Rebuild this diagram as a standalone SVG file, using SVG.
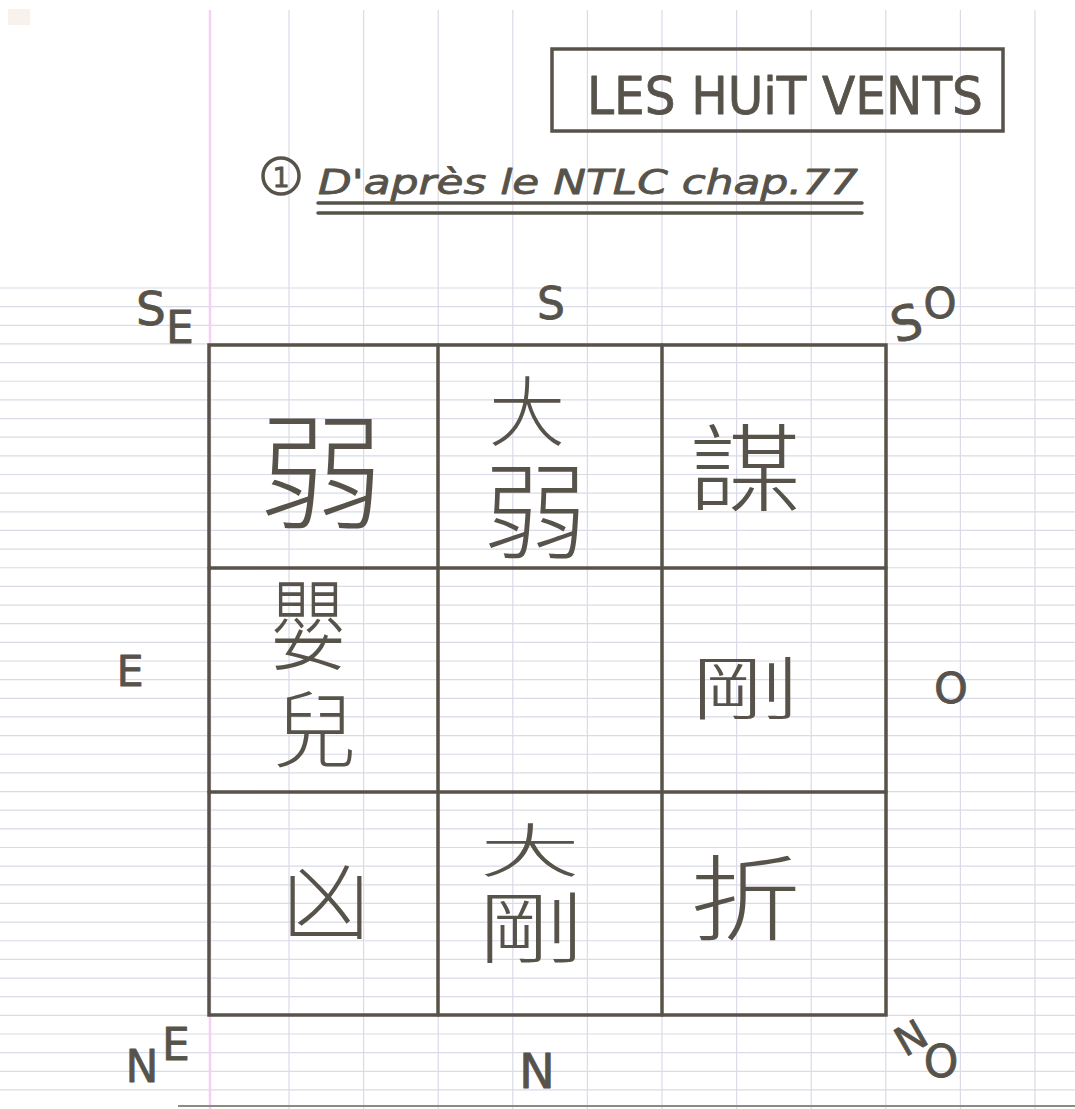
<svg xmlns="http://www.w3.org/2000/svg" width="1075" height="1109" viewBox="0 0 1075 1109">
<style>
.paper{stroke:#dadae8;stroke-width:1.2;fill:none}
.ink{stroke:#57534b;stroke-width:3.5;fill:none;stroke-linecap:round}
.lat{font-family:"DejaVu Sans","Liberation Sans",sans-serif;fill:#57534b;stroke:#57534b;stroke-width:0.8;stroke-linejoin:round;text-anchor:middle}
.cjk{font-family:"Liberation Sans","Noto Sans CJK TC","Noto Sans CJK JP",sans-serif;font-weight:300;fill:#57534b;text-anchor:middle}
.start{text-anchor:start}
</style>
<rect width="1075" height="1109" fill="#ffffff"/>
<rect x="8" y="9" width="22" height="16" fill="#f5e8de" opacity="0.6"/>
<g id="paper">
<path class="paper" d="M0 288H1075M0 306.65H1075M0 325.3H1075M0 343.95H1075M0 362.6H1075M0 381.25H1075M0 399.9H1075M0 418.55H1075M0 437.2H1075M0 455.85H1075M0 474.5H1075M0 493.15H1075M0 511.8H1075M0 530.45H1075M0 549.1H1075M0 567.75H1075M0 586.4H1075M0 605.05H1075M0 623.7H1075M0 642.35H1075M0 661H1075M0 679.65H1075M0 698.3H1075M0 716.95H1075M0 735.6H1075M0 754.25H1075M0 772.9H1075M0 791.55H1075M0 810.2H1075M0 828.85H1075M0 847.5H1075M0 866.15H1075M0 884.8H1075M0 903.45H1075M0 922.1H1075M0 940.75H1075M0 959.4H1075M0 978.05H1075M0 996.7H1075M0 1015.35H1075M0 1034H1075M0 1052.65H1075M0 1071.3H1075M0 1089.95H1075"/>
<path class="paper" d="M289 10V1109M363.6 10V1109M438.2 10V1109M512.8 10V1109M587.4 10V1109M662 10V1109M736.6 10V1109M811.2 10V1109M885.8 10V1109M960.4 10V1109M1035 10V1109"/>
<line x1="210" y1="10" x2="210" y2="1109" stroke="#f5d0f3" stroke-width="2.5"/>
<line x1="178" y1="1106" x2="1075" y2="1106" stroke="#8d8a84" stroke-width="2"/>
</g>
<g id="title">
<rect x="552" y="49" width="451" height="82" class="ink"/>
<text class="lat" x="785" y="114" font-size="52" textLength="396" lengthAdjust="spacingAndGlyphs">LES HUiT VENTS</text>
</g>
<g id="subtitle">
<circle cx="281" cy="176" r="18" class="ink" stroke-width="3"/>
<text class="lat" x="281" y="187" font-size="27" stroke-width="0.6">1</text>
<text class="lat start" x="318" y="194" font-size="34" font-style="italic" stroke-width="0.3" textLength="540" lengthAdjust="spacingAndGlyphs">D'après le NTLC chap.77</text>
<line x1="318" y1="203" x2="862" y2="203" class="ink" stroke-width="2.5"/>
<line x1="318" y1="213" x2="862" y2="213" class="ink" stroke-width="2.5"/>
</g>
<g id="connectors">
<rect x="209" y="345" width="677" height="670" class="ink"/>
<line x1="438" y1="345" x2="438" y2="1015" class="ink"/>
<line x1="662" y1="345" x2="662" y2="1015" class="ink"/>
<line x1="209" y1="568" x2="886" y2="568" class="ink"/>
<line x1="209" y1="792" x2="886" y2="792" class="ink"/>
</g>
<g id="labels">
<g id="lbl-SE"><text class="lat" x="151" y="325" font-size="47">S</text><text class="lat" x="180" y="343" font-size="44">E</text></g>
<g id="lbl-S"><text class="lat" x="551" y="319" font-size="44">S</text></g>
<g id="lbl-SO"><text class="lat" x="906" y="340" font-size="48" transform="rotate(-15 906 322)">S</text><text class="lat" x="940" y="318" font-size="42">O</text></g>
<g id="lbl-E"><text class="lat" x="130" y="686" font-size="43">E</text></g>
<g id="lbl-O"><text class="lat" x="951" y="703" font-size="43">O</text></g>
<g id="lbl-NE"><text class="lat" x="142" y="1082" font-size="44">N</text><text class="lat" x="176" y="1060" font-size="44">E</text></g>
<g id="lbl-N"><text class="lat" x="537" y="1088" font-size="48">N</text></g>
<g id="lbl-NO"><text class="lat" x="911" y="1052" font-size="40" transform="rotate(-30 911 1038)">N</text><text class="lat" x="941" y="1077" font-size="44">O</text></g>
</g>
<g id="cell-SE"><text class="cjk" x="321" y="519" font-size="125">弱</text></g>
<g id="cell-S"><text class="cjk"><tspan x="527" y="440" font-size="76">大</tspan><tspan x="535" y="551" font-size="104">弱</tspan></text></g>
<g id="cell-SO"><text class="cjk" x="745" y="506" font-size="100" transform="translate(745 468) scale(1.12 0.95) translate(-745 -468)">謀</text></g>
<g id="cell-E"><text class="cjk"><tspan x="308" y="662" font-size="100" textLength="76" lengthAdjust="spacingAndGlyphs">嬰</tspan><tspan x="315" y="761" font-size="84">兒</tspan></text></g>
<g id="cell-O"><text class="cjk" x="0" y="36" font-size="96" transform="translate(745 688) scale(1.15 0.72)">剛</text></g>
<g id="cell-NE"><text class="cjk" x="326" y="933" font-size="88">凶</text></g>
<g id="cell-N"><text class="cjk"><tspan x="530" y="872" font-size="58" textLength="100" lengthAdjust="spacingAndGlyphs">大</tspan><tspan x="531" y="957" font-size="78" textLength="107" lengthAdjust="spacingAndGlyphs">剛</tspan></text></g>
<g id="cell-NO"><text class="cjk" x="0" y="40" font-size="105" transform="translate(745 898) scale(1.05 0.9)">折</text></g>
</svg>
